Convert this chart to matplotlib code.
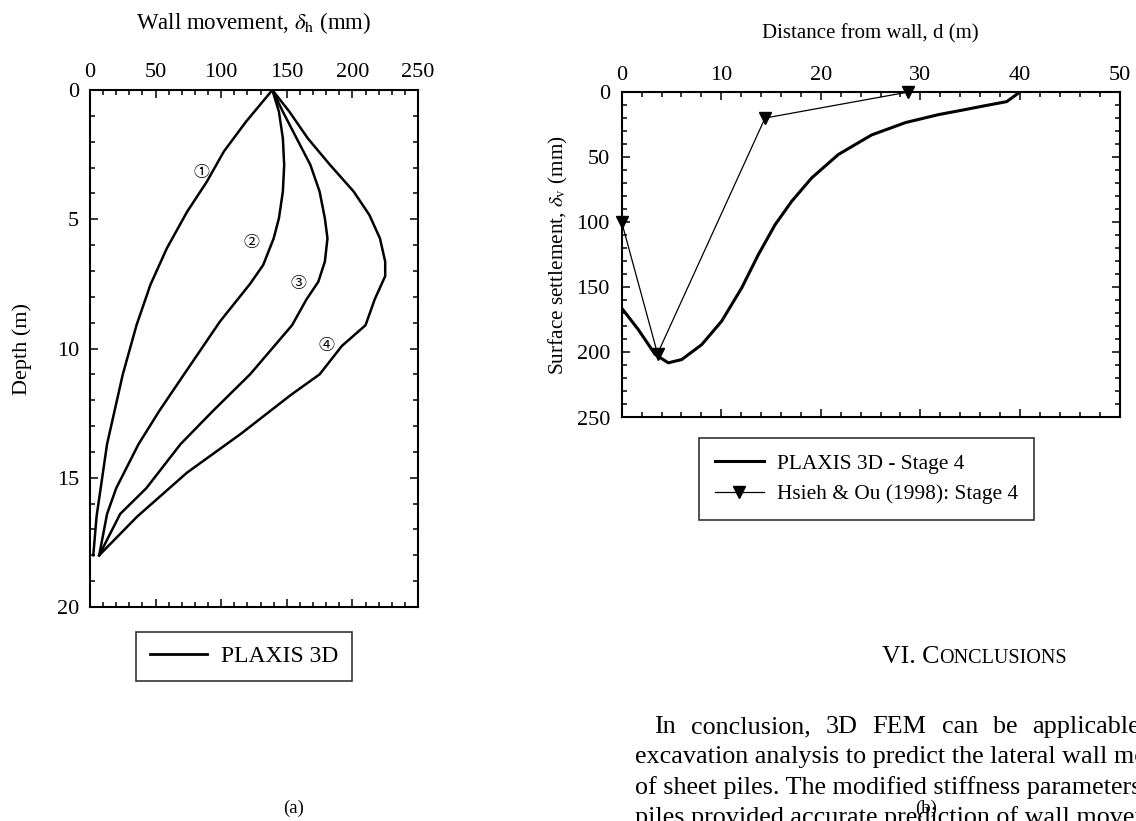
import matplotlib
matplotlib.use('Agg')
from matplotlib import pyplot as plt
from matplotlib.ticker import MultipleLocator
from matplotlib.lines import Line2D

plt.rcParams['font.family'] = ['Liberation Serif', 'Noto Sans CJK JP', 'DejaVu Sans']
plt.rcParams['mathtext.fontset'] = 'stix'

# (a) wall movement profiles, PLAXIS 3D stages 1-4
depth_1 = [0, 1.22, 2.38, 3.55, 4.71, 6.13, 7.54, 9.09, 11, 13.7, 16.5, 18]
move_1 = [139, 119, 102, 89, 74, 58.5, 46, 35.5, 25, 13, 5, 2.5]
depth_2 = [0, 0.84, 1.87, 2.9, 3.93, 4.96, 5.74, 6.77, 7.5, 8.96, 11.2, 12.4, 13.7, 15.4, 16.4, 18]
move_2 = [139, 144, 147, 148, 147, 144, 140, 132, 122, 99, 69, 53, 37, 20, 13, 7]
depth_3 = [0, 0.84, 1.87, 2.9, 3.93, 4.96, 5.74, 6.64, 7.42, 8.1, 9.1, 11, 12.4, 13.7, 15.4, 16.4, 18]
move_3 = [139, 147, 157.5, 168, 175, 179, 181, 179, 174, 165, 154, 122, 94, 69, 43, 23, 7]
depth_4 = [0, 0.84, 1.87, 2.9, 3.93, 4.84, 5.74, 6.64, 7.2, 8.1, 9.1, 9.9, 11, 11.8, 13.3, 14.8, 16.5, 18]
move_4 = [139, 152, 166, 183, 201, 213, 221, 225, 225, 217, 210, 192, 175, 153, 115, 74, 36, 7]
stage_labels = ['\u2460', '\u2461', '\u2462', '\u2463']
label_move = [85, 123, 159, 180]
label_depth = [3.2, 5.9, 7.5, 9.9]

# (b) surface settlement, stage 4
dist_plaxis = [0, 1.67, 3.35, 4.68, 6.03, 8.04, 10.04, 12.05, 13.72, 15.4, 17.07, 19.08,
               21.76, 25.1, 28.5, 31.8, 34.3, 36.5, 38.67, 40]
settle_plaxis = [166, 182.5, 201.5, 208, 205.5, 194, 176, 150.5, 125, 102, 84, 66,
                 48, 33, 23.5, 17.4, 13.8, 10.5, 7.4, 0]
dist_hsieh = [0, 3.6, 14.4, 28.8]
settle_hsieh = [100, 201, 20, 0]

first_line = ['In', 'conclusion,', '3D', 'FEM', 'can', 'be', 'applicable']
paragraph = [
    'excavation analysis to predict the lateral wall movement',
    'of sheet piles. The modified stiffness parameters of sheet',
    'piles provided accurate prediction of wall movement',
]

W, H = 1136, 821


def style_axes(ax, xmaj, xmin, ymaj, ymin):
    ax.xaxis.set_major_locator(MultipleLocator(xmaj))
    ax.xaxis.set_minor_locator(MultipleLocator(xmin))
    ax.yaxis.set_major_locator(MultipleLocator(ymaj))
    ax.yaxis.set_minor_locator(MultipleLocator(ymin))
    ax.xaxis.tick_top()
    ax.xaxis.set_label_position('top')
    ax.tick_params(which='both', direction='in', top=True, bottom=True,
                   left=True, right=True, labeltop=True, labelbottom=False,
                   width=1.1)
    ax.tick_params(which='major', length=6)
    ax.tick_params(which='minor', length=3.5)
    for sp in ax.spines.values():
        sp.set_linewidth(1.5)


fig = plt.figure(figsize=(W / 100, H / 100), dpi=100)

# ---- left chart
ax1 = fig.add_axes([90 / W, 1 - 607 / H, 328 / W, 517 / H])
for mv, dp in [(move_1, depth_1), (move_2, depth_2), (move_3, depth_3), (move_4, depth_4)]:
    ax1.plot(mv, dp, color='black', lw=1.8, solid_joinstyle='round')
for lab, x, y in zip(stage_labels, label_move, label_depth):
    ax1.text(x, y, lab, fontsize=11.5, ha='center', va='center')
ax1.set_xlim(0, 250)
ax1.set_ylim(20, 0)
style_axes(ax1, 50, 10, 5, 1)
ax1.tick_params(which='major', labelsize=16)
ax1.tick_params(axis='x', pad=6)
ax1.tick_params(axis='y', pad=8)
ax1.set_xlabel('Wall movement, $\\delta_\\mathrm{h}$ (mm)', fontsize=16.5, labelpad=24)
ax1.set_ylabel('Depth (m)', fontsize=16, labelpad=18)

leg1 = ax1.legend([Line2D([], [], color='black', lw=2)], ['PLAXIS 3D'],
                  loc='center', bbox_to_anchor=(244 / W, 1 - 656.5 / H),
                  bbox_transform=fig.transFigure, fontsize=17, frameon=True,
                  fancybox=False, edgecolor='black', handlelength=2.4,
                  borderpad=0.6, handletextpad=0.6)
leg1.get_frame().set_linewidth(1.2)

# ---- right chart
ax2 = fig.add_axes([621.7 / W, 1 - 417.5 / H, 497.8 / W, 325.5 / H])
ax2.plot(dist_plaxis, settle_plaxis, color='black', lw=2.2, label='PLAXIS 3D - Stage 4')
ax2.plot(dist_hsieh, settle_hsieh, color='black', lw=0.9, marker='v', markersize=8,
         clip_on=False, label='Hsieh & Ou (1998): Stage 4')
ax2.set_xlim(0, 50)
ax2.set_ylim(250, 0)
style_axes(ax2, 10, 2, 50, 10)
ax2.tick_params(which='major', labelsize=16)
ax2.tick_params(axis='x', pad=5)
ax2.tick_params(axis='y', pad=8.5)
ax2.set_xlabel('Distance from wall, d (m)', fontsize=15, labelpad=20)
ax2.set_ylabel('Surface settlement, $\\delta_\\mathrm{v}$ (mm)', fontsize=15.3, labelpad=5)

leg2 = ax2.legend(loc='center', bbox_to_anchor=(866.4 / W, 1 - 479 / H),
                  bbox_transform=fig.transFigure, fontsize=15.4, frameon=True,
                  fancybox=False, edgecolor='black', handlelength=2.3,
                  borderpad=0.75, handletextpad=0.6, labelspacing=0.5)
leg2.get_frame().set_linewidth(1.2)

# ---- captions and page text
fig.text(294 / W, 1 - 808 / H, '(a)', fontsize=13.5, ha='center', va='center')

fig.text(939 / W, 1 - 663 / H, 'VI. C', fontsize=18.5, ha='right', va='baseline')
fig.text(939 / W, 1 - 663 / H, 'ONCLUSIONS', fontsize=14.5, ha='left', va='baseline')

# first line of the paragraph is justified
fig.canvas.draw()
renderer = fig.canvas.get_renderer()
x_start, x_end = 654, 1140
widths = []
for w in first_line:
    t = fig.text(0, 0, w, fontsize=18.8)
    widths.append(t.get_window_extent(renderer).width)
    t.remove()
gap = (x_end - x_start - sum(widths)) / (len(first_line) - 1)
x = x_start
for w, wd in zip(first_line, widths):
    fig.text(x / W, 1 - 727 / H, w, fontsize=18.8, ha='left', va='center')
    x += wd + gap

for i, line in enumerate(paragraph):
    fig.text(635 / W, 1 - (757 + 30.5 * i) / H, line, fontsize=18.8,
             ha='left', va='center')

fig.text(926 / W, 1 - 808 / H, '(b)', fontsize=13.5, ha='center', va='center')

fig.savefig('out.png', dpi=100)
